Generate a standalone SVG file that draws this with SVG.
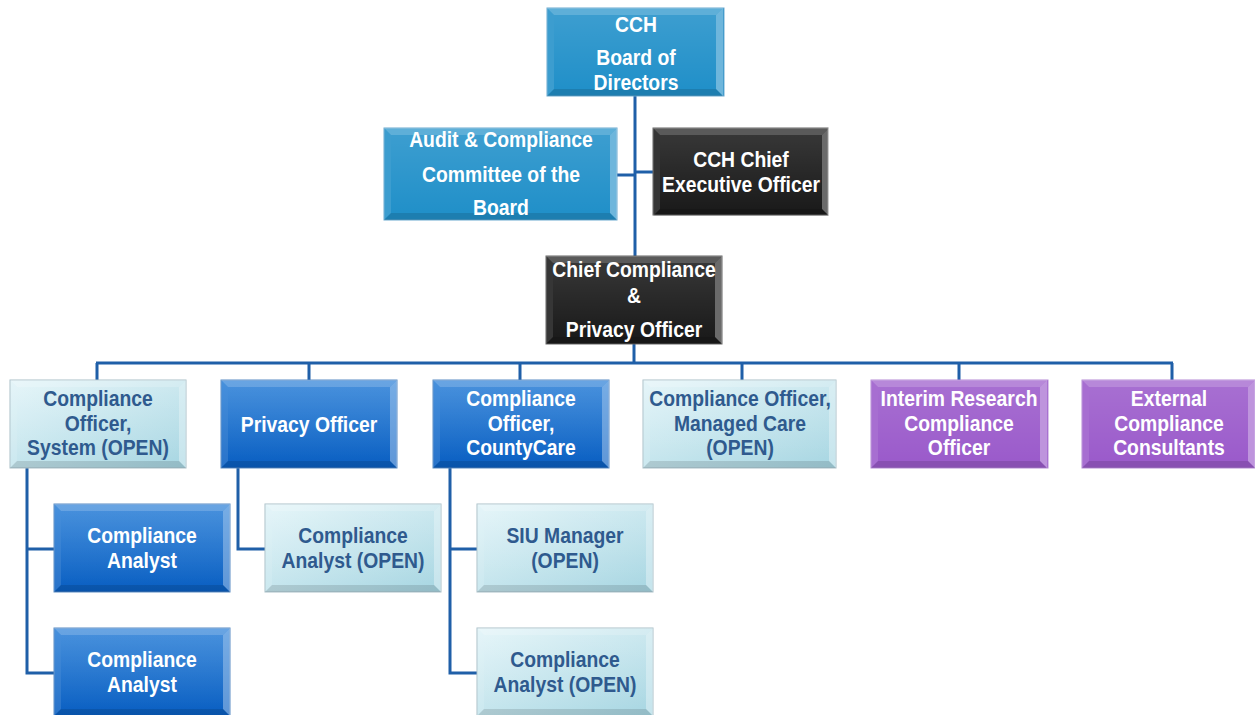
<svg xmlns="http://www.w3.org/2000/svg" xmlns:xlink="http://www.w3.org/1999/xlink" width="1255" height="715" viewBox="0 0 1255 715">
<style>
  .txt{font-family:"Liberation Sans",Arial,sans-serif;font-weight:bold;font-size:22.5px;text-anchor:middle}
  .w{fill:#ffffff}
  .d{fill:#2f5a8e}
  .cblue{fill:#2190c9;stroke:#6aa9cf;stroke-width:1}
  .cblack{fill:#1b1b1b;stroke:#666;stroke-width:1}
  .cdark{fill:url(#gdark);stroke:#5a8cc4;stroke-width:1}
  .clight{fill:url(#glight);stroke:#a9bfc8;stroke-width:1}
  .cpurple{fill:#9b5bcb;stroke:#b58ad6;stroke-width:1}
  .bt{fill:#fff;fill-opacity:.28}
  .bl{fill:#fff;fill-opacity:.12}
  .br{fill:#fff;fill-opacity:.35}
  .bb{fill:#000;fill-opacity:.12}
  .conn{fill:none;stroke:#1f5fa8;stroke-width:3}
</style>
<defs>
  <linearGradient id="gdark" x1="0" y1="0" x2="0" y2="1">
    <stop offset="0" stop-color="#2f82d8"/>
    <stop offset="1" stop-color="#0a5fc2"/>
  </linearGradient>
  <linearGradient id="glight" x1="0" y1="0" x2="1" y2="1">
    <stop offset="0" stop-color="#e2f4f8"/>
    <stop offset="1" stop-color="#a7d6e2"/>
  </linearGradient>
  <linearGradient id="sheen" x1="0" y1="0" x2="0" y2="1">
    <stop offset="0" stop-color="#fff" stop-opacity=".12"/>
    <stop offset="1" stop-color="#fff" stop-opacity="0"/>
  </linearGradient>
  <g id="bev176">
    <path class="bt" d="M0,0 h176 l-7,7 h-162 z"/>
    <path class="bl" d="M0,0 l7,7 v74 l-7,7 z"/>
    <path class="br" d="M176,0 v88 l-7,-7 v-74 z"/>
    <path class="bb" d="M0,88 h176 l-7,-7 h-162 z"/>
    <rect x="7" y="7" width="162" height="74" fill="url(#sheen)"/>
  </g>
  <g id="bev173">
    <path class="bt" d="M0,0 h173 l-7,7 h-159 z"/>
    <path class="bl" d="M0,0 l7,7 v74 l-7,7 z"/>
    <path class="br" d="M173,0 v88 l-7,-7 v-74 z"/>
    <path class="bb" d="M0,88 h173 l-7,-7 h-159 z"/>
    <rect x="7" y="7" width="159" height="74" fill="url(#sheen)"/>
  </g>
  <g id="bev193">
    <path class="bt" d="M0,0 h193 l-7,7 h-179 z"/>
    <path class="bl" d="M0,0 l7,7 v74 l-7,7 z"/>
    <path class="br" d="M193,0 v88 l-7,-7 v-74 z"/>
    <path class="bb" d="M0,88 h193 l-7,-7 h-179 z"/>
    <rect x="7" y="7" width="179" height="74" fill="url(#sheen)"/>
  </g>
  <g id="bev233">
    <path class="bt" d="M0,0 h233 l-7,7 h-219 z"/>
    <path class="bl" d="M0,0 l7,7 v78 l-7,7 z"/>
    <path class="br" d="M233,0 v92 l-7,-7 v-78 z"/>
    <path class="bb" d="M0,92 h233 l-7,-7 h-219 z"/>
    <rect x="7" y="7" width="219" height="78" fill="url(#sheen)"/>
  </g>
</defs>

<g id="connectors">
  <path class="conn" d="M635,96 V256"/>
  <path class="conn" d="M617,175 H635"/>
  <path class="conn" d="M635,172 H653"/>
  <path class="conn" d="M634,344 V363"/>
  <path class="conn" d="M96,363 H1173"/>
  <path class="conn" d="M97,363 V380 M309,363 V380 M520,363 V380 M742,363 V380 M959,363 V380 M1172,363 V380"/>
  <path class="conn" d="M27,468 V673 H54 M27,549 H54"/>
  <path class="conn" d="M238,468 V549 H265"/>
  <path class="conn" d="M450,468 V673 H477 M450,549 H477"/>
</g>

<g id="board">
  <rect class="cblue" x="547" y="8" width="177" height="88"/>
  <use xlink:href="#bev176" href="#bev176" x="547" y="8"/>
  <text class="txt w" transform="translate(636,0) scale(.86,1)"><tspan x="0" y="32">CCH</tspan><tspan x="0" y="65">Board of</tspan><tspan x="0" y="90">Directors</tspan></text>
</g>
<g id="audit">
  <rect class="cblue" x="384" y="128" width="233" height="92"/>
  <use xlink:href="#bev233" href="#bev233" x="384" y="128"/>
  <text class="txt w" transform="translate(501,0) scale(.86,1)"><tspan x="0" y="147">Audit &amp; Compliance</tspan><tspan x="0" y="182">Committee of the</tspan><tspan x="0" y="215">Board</tspan></text>
</g>
<g id="ceo">
  <rect class="cblack" x="653" y="128" width="175" height="87"/>
  <use xlink:href="#bev176" href="#bev176" x="653" y="128"/>
  <text class="txt w" transform="translate(741,0) scale(.86,1)"><tspan x="0" y="167">CCH Chief</tspan><tspan x="0" y="192">Executive Officer</tspan></text>
</g>
<g id="cco">
  <rect class="cblack" x="546" y="256" width="176" height="88"/>
  <use xlink:href="#bev176" href="#bev176" x="546" y="256"/>
  <text class="txt w" transform="translate(634,0) scale(.86,1)"><tspan x="0" y="277">Chief Compliance</tspan><tspan x="0" y="303">&amp;</tspan><tspan x="0" y="337">Privacy Officer</tspan></text>
</g>
<g id="co-system">
  <rect class="clight" x="10" y="380" width="176" height="88"/>
  <use xlink:href="#bev176" href="#bev176" x="10" y="380"/>
  <text class="txt d" transform="translate(98,0) scale(.86,1)"><tspan x="0" y="406">Compliance</tspan><tspan x="0" y="431">Officer,</tspan><tspan x="0" y="455">System (OPEN)</tspan></text>
</g>
<g id="privacy-officer">
  <rect class="cdark" x="221" y="380" width="176" height="88"/>
  <use xlink:href="#bev176" href="#bev176" x="221" y="380"/>
  <text class="txt w" transform="translate(309,0) scale(.86,1)"><tspan x="0" y="432">Privacy Officer</tspan></text>
</g>
<g id="co-countycare">
  <rect class="cdark" x="433" y="380" width="176" height="88"/>
  <use xlink:href="#bev176" href="#bev176" x="433" y="380"/>
  <text class="txt w" transform="translate(521,0) scale(.86,1)"><tspan x="0" y="406">Compliance</tspan><tspan x="0" y="431">Officer,</tspan><tspan x="0" y="455">CountyCare</tspan></text>
</g>
<g id="co-managed-care">
  <rect class="clight" x="643" y="380" width="193" height="88"/>
  <use xlink:href="#bev193" href="#bev193" x="643" y="380"/>
  <text class="txt d" transform="translate(740,0) scale(.86,1)"><tspan x="0" y="406">Compliance Officer,</tspan><tspan x="0" y="431">Managed Care</tspan><tspan x="0" y="455">(OPEN)</tspan></text>
</g>
<g id="research">
  <rect class="cpurple" x="871" y="380" width="177" height="88"/>
  <use xlink:href="#bev176" href="#bev176" x="871" y="380"/>
  <text class="txt w" transform="translate(959,0) scale(.86,1)"><tspan x="0" y="406">Interim Research</tspan><tspan x="0" y="431">Compliance</tspan><tspan x="0" y="455">Officer</tspan></text>
</g>
<g id="external">
  <rect class="cpurple" x="1082" y="380" width="173" height="88"/>
  <use xlink:href="#bev173" href="#bev173" x="1082" y="380"/>
  <text class="txt w" transform="translate(1169,0) scale(.86,1)"><tspan x="0" y="406">External</tspan><tspan x="0" y="431">Compliance</tspan><tspan x="0" y="455">Consultants</tspan></text>
</g>
<g id="analyst-1">
  <rect class="cdark" x="54" y="504" width="176" height="88"/>
  <use xlink:href="#bev176" href="#bev176" x="54" y="504"/>
  <text class="txt w" transform="translate(142,0) scale(.86,1)"><tspan x="0" y="543">Compliance</tspan><tspan x="0" y="568">Analyst</tspan></text>
</g>
<g id="analyst-2">
  <rect class="cdark" x="54" y="628" width="176" height="88"/>
  <use xlink:href="#bev176" href="#bev176" x="54" y="628"/>
  <text class="txt w" transform="translate(142,0) scale(.86,1)"><tspan x="0" y="667">Compliance</tspan><tspan x="0" y="692">Analyst</tspan></text>
</g>
<g id="analyst-open-privacy">
  <rect class="clight" x="265" y="504" width="176" height="88"/>
  <use xlink:href="#bev176" href="#bev176" x="265" y="504"/>
  <text class="txt d" transform="translate(353,0) scale(.86,1)"><tspan x="0" y="543">Compliance</tspan><tspan x="0" y="568">Analyst (OPEN)</tspan></text>
</g>
<g id="siu-manager">
  <rect class="clight" x="477" y="504" width="176" height="88"/>
  <use xlink:href="#bev176" href="#bev176" x="477" y="504"/>
  <text class="txt d" transform="translate(565,0) scale(.86,1)"><tspan x="0" y="543">SIU Manager</tspan><tspan x="0" y="568">(OPEN)</tspan></text>
</g>
<g id="analyst-open-county">
  <rect class="clight" x="477" y="628" width="176" height="88"/>
  <use xlink:href="#bev176" href="#bev176" x="477" y="628"/>
  <text class="txt d" transform="translate(565,0) scale(.86,1)"><tspan x="0" y="667">Compliance</tspan><tspan x="0" y="692">Analyst (OPEN)</tspan></text>
</g>
</svg>
